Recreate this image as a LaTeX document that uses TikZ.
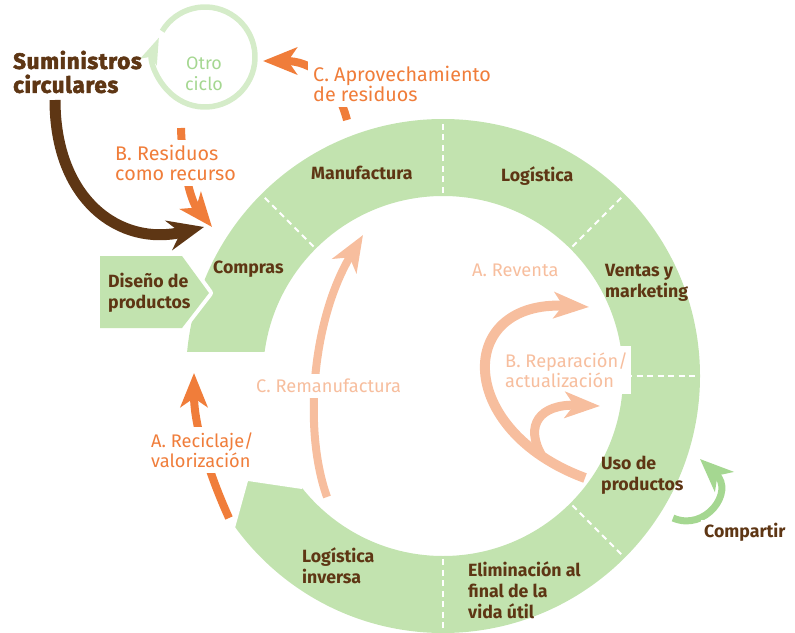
\documentclass[tikz,border=0pt]{standalone}
\usepackage{fontspec}
\setmainfont{Fira Sans}
\newfontfamily\heavyfont[BoldFeatures={FakeBold=2.5}, LetterSpace=3]{Fira Sans}
\usetikzlibrary{arrows.meta,calc}
\definecolor{ringg}{RGB}{194,227,175}
\definecolor{dkbrown}{RGB}{94,54,20}
\definecolor{orng}{RGB}{240,125,58}
\definecolor{salm}{RGB}{247,190,158}
\definecolor{paleg}{RGB}{213,236,201}
\definecolor{midg}{RGB}{165,215,145}
\begin{document}
\begin{tikzpicture}[x=1bp,y=-1bp,
  seg/.style={font=\bfseries\fontsize{17.8}{21}\selectfont, text=dkbrown, inner sep=0pt, align=left, anchor=west},
  lbl/.style={font=\fontsize{18.3}{20.5}\selectfont, inner sep=0pt, align=left, anchor=west},
  biglbl/.style={font=\fontsize{19.8}{20.5}\selectfont},
  wbox/.style={fill=white, inner sep=5bp},
  divider/.style={draw=white, line width=2bp, dash pattern=on 6bp off 4.5bp},
  orarr/.style={draw=orng, line width=8bp, -{Stealth[length=34bp,width=27bp,inset=9bp]}},
  salarr/.style={draw=salm, line width=9bp, -{Stealth[length=35bp,width=26bp,inset=9bp]}},
  grarr/.style={draw=midg, line width=7bp, -{Stealth[length=33bp,width=27bp,inset=9bp]}},
  brarr/.style={draw=dkbrown, line width=11bp, -{Stealth[length=36bp,width=30bp,inset=12bp]}},
  cyclearr/.style={draw=paleg, line width=5.5bp, -{Stealth[length=26bp,width=17bp,inset=5bp]}}
]
\useasboundingbox (0,0) rectangle (795,633);
% ---------------- ring ----------------
\coordinate (c) at (443,376);
\fill[ringg, even odd rule] (c) circle[radius=257] (c) circle[radius=180];
\fill[white] (330,352) -- (150,352) -- (150,528) -- (235,528) -- (248,481) -- (302,489) -- cycle;
\foreach \a in {-135,-90,-45,0,45,90}
  \draw[divider] ($(c)+(\a:183)$) -- ($(c)+(\a:255)$);
% ---------------- design pentagon ----------------
\path[fill=white, draw=white, line width=8bp, line join=round]
  (100,256) -- (182,256) -- (209,293) -- (182,328) -- (100,328) -- cycle;
\fill[ringg] (100,256) -- (182,256) -- (209,293) -- (182,328) -- (100,328) -- cycle;
% ---------------- ring labels ----------------
\node[seg] (manu) at (311,173) {Manufactura};
\node[seg] (logi) at (501,176) {Logística};
\node[seg] (vent) at (605,283) {Ventas y\\marketing};
\node[seg] (comp) at (213,269) {Compras};
\node[seg] (dise) at (108,293) {Diseño de\\productos};
\node[seg] (uso) at (601,475) {Uso de\\productos};
\node[seg] (elim) at (468,590) {Eliminación al\\final de la\\vida útil};
\node[seg] (linv) at (302,566) {Logística\\inversa};
% repair label (its white box cuts the ring)
\node[lbl, text=salm, fill=white, inner xsep=3bp, inner ysep=6bp] (repa) at (502,370) {B. Reparación/\\actualización};
\node[lbl, text=salm] (reve) at (472,270) {A. Reventa};
% ---------------- other cycle ----------------
\coordinate (oc) at (205,57);
\draw[cyclearr] ($(oc)+(-149:50)$) arc[start angle=-149, end angle=203, radius=50];
\node[font=\fontsize{18}{21}\selectfont, text=midg, align=center, inner sep=0pt] (otro) at (204,74) {Otro\\ciclo};
\node[font=\heavyfont\bfseries\fontsize{22.5}{24}\selectfont, text=dkbrown, align=left, anchor=west, inner sep=0pt] (sumi) at (13,72) {Suministros\\circulares};
% ---------------- arrows ----------------
\coordinate (sumA) at (55,100);
\coordinate (sumB) at (204,227);
\draw[brarr] (sumA) .. controls (55,200) and (120,247) .. (sumB);
\coordinate (resA) at (181,128);
\coordinate (resB) at (212,227);
\draw[orarr] (resA) .. controls (182,165) and (190,200) .. (resB);
\coordinate (aprA) at (347,120);
\coordinate (aprB) at (263,61);
\draw[orarr] (aprA) .. controls (336,78) and (310,61) .. (aprB);
\coordinate (recA) at (229,518);
\coordinate (recB) at (194,373);
\draw[orarr] (recA) .. controls (205,465) and (194,420) .. (recB);
\coordinate (remA) at (327,497);
\coordinate (remB) at (363,235);
\draw[salarr, line width=8bp, -{Stealth[length=36bp,width=28bp,inset=10bp]}] (remA) .. controls (303,430) and (312,320) .. (remB);
\coordinate (revA) at (585,478);
\coordinate (revB) at (589,307);
\draw[salarr, line width=10bp] (revA) .. controls (455,430) and (455,300) .. (revB);
\coordinate (repA) at (542,456);
\coordinate (repB) at (600,406);
\draw[salarr] (repA) .. controls (524,425) and (540,404) .. (repB);
\coordinate (shA) at (673,518);
\coordinate (shB) at (700,459);
\draw[grarr] (shA) .. controls (705,532) and (735,492) .. (shB);
% ---------------- labels over arrows ----------------
\node[lbl, biglbl, wbox, text=orng] (aprl) at (308,84) {C. Aprovechamiento\\de residuos};
\node[lbl, biglbl, wbox, text=orng] (resl) at (110,163) {B. Residuos\\como recurso};
\node[lbl, wbox, text=orng] (recl) at (146,450) {A. Reciclaje/\\valorización};
\node[lbl, wbox, text=salm] (reml) at (251,386) {C. Remanufactura};
\node[seg, fill=white, inner sep=3bp] (compa) at (701,532) {Compartir};
\end{tikzpicture}
\end{document}
